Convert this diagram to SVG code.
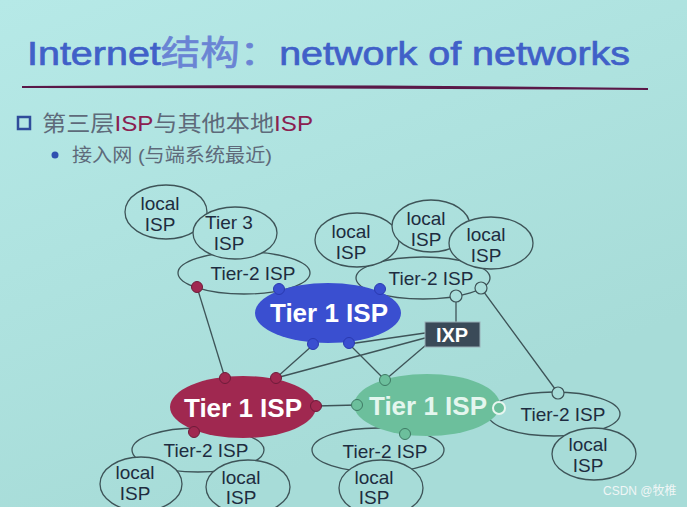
<svg xmlns="http://www.w3.org/2000/svg" width="687" height="507" viewBox="0 0 687 507">
<defs>
<linearGradient id="bg" gradientUnits="userSpaceOnUse" x1="0" y1="0" x2="200" y2="507">
<stop offset="0" stop-color="#b6e9e7"/>
<stop offset="1" stop-color="#a7dcd8"/>
</linearGradient>
<style>
.e{fill:url(#bg);stroke:#3e5458;stroke-width:1.3}
.t{font-family:"Liberation Sans","DejaVu Sans",sans-serif;font-size:19px;fill:#1e2c40;text-anchor:middle}
.w{font-family:"Liberation Sans","DejaVu Sans",sans-serif;font-size:26px;font-weight:bold;text-anchor:middle}
.c line,.c polyline{stroke:#3e5458;stroke-width:1.3;fill:none}
.db{fill:#3a4fd0;stroke:#2a3ab0;stroke-width:1}
.dr{fill:#a02850;stroke:#6e1c3a;stroke-width:1}
.dg{fill:#6cbf9c;stroke:#3e7a64;stroke-width:1}
.dh{fill:url(#bg);stroke:#3e5458;stroke-width:1.2}
</style>
</defs>
<rect width="687" height="507" fill="url(#bg)"/>

<g id="title">
<text x="27" y="65" font-family="'Liberation Sans','Noto Sans CJK SC',sans-serif" font-size="34" fill="#4060c8" stroke="#4060c8" stroke-width="0.7" textLength="603" lengthAdjust="spacingAndGlyphs">Internet<tspan fill="#6a84d4" stroke="#6a84d4">结构：</tspan>network of networks</text>
<path d="M22 86 Q330 84 648 88 L648 90 Q330 88 22 88 Z" fill="#5a1848"/>
</g>

<g id="bullets" font-family="'Liberation Sans','Noto Sans CJK SC',sans-serif">
<rect x="18" y="117" width="12" height="12" fill="none" stroke="#2f4c9a" stroke-width="2.5"/>
<text x="42" y="131" font-size="22" fill="#5e6a7a" textLength="271" lengthAdjust="spacingAndGlyphs">第三层<tspan fill="#8a2050">ISP</tspan>与其他本地<tspan fill="#8a2050">ISP</tspan></text>
<circle cx="55" cy="155" r="3.5" fill="#3050b0"/>
<text x="72" y="162" font-size="19" fill="#5e6a7a" textLength="200" lengthAdjust="spacingAndGlyphs">接入网 (与端系统最近)</text>
</g>

<g class="c" id="connectors">
<line x1="197" y1="287" x2="225" y2="378"/>
<line x1="313" y1="345" x2="276" y2="378"/>
<line x1="349" y1="344" x2="385" y2="380"/>
<line x1="425" y1="333" x2="349" y2="344"/>
<line x1="425" y1="338" x2="276" y2="378"/>
<line x1="426" y1="345" x2="385" y2="380"/>
<line x1="456" y1="322" x2="456" y2="296"/>
<polyline points="456,296 481,288 558,393"/>
<line x1="316" y1="406" x2="357" y2="405"/>
</g>

<g id="tl-tier2"><ellipse class="e" cx="244" cy="273" rx="66" ry="21"/><text class="t" x="253" y="280">Tier-2 ISP</text></g>
<g id="tl-local"><ellipse class="e" cx="166" cy="212" rx="41" ry="27"/><text class="t" x="160" y="210">local</text><text class="t" x="160" y="231">ISP</text></g>
<g id="tier3"><ellipse class="e" cx="235" cy="233" rx="42" ry="26"/><text class="t" x="229" y="229">Tier 3</text><text class="t" x="229" y="250">ISP</text></g>

<g id="tr-tier2"><ellipse class="e" cx="423" cy="278" rx="67" ry="21"/><text class="t" x="431" y="285">Tier-2 ISP</text></g>
<g id="tr-local1"><ellipse class="e" cx="357" cy="240" rx="42" ry="27"/><text class="t" x="351" y="238">local</text><text class="t" x="351" y="259">ISP</text></g>
<g id="tr-local2"><ellipse class="e" cx="431" cy="226" rx="39" ry="26"/><text class="t" x="426" y="225">local</text><text class="t" x="426" y="246">ISP</text></g>
<g id="tr-local3"><ellipse class="e" cx="491" cy="243" rx="42" ry="26"/><text class="t" x="486" y="241">local</text><text class="t" x="486" y="262">ISP</text></g>

<g id="bl-tier2"><ellipse class="e" cx="198" cy="450" rx="66" ry="22"/><text class="t" x="206" y="457">Tier-2 ISP</text></g>
<g id="bl-local1"><ellipse class="e" cx="141" cy="484" rx="41" ry="27"/><text class="t" x="135" y="479">local</text><text class="t" x="135" y="500">ISP</text></g>
<g id="bl-local2"><ellipse class="e" cx="248" cy="487" rx="42" ry="27"/><text class="t" x="241" y="484">local</text><text class="t" x="241" y="504">ISP</text></g>

<g id="bm-tier2"><ellipse class="e" cx="378" cy="450" rx="66" ry="22"/><text class="t" x="385" y="458">Tier-2 ISP</text></g>
<g id="bm-local"><ellipse class="e" cx="381" cy="488" rx="42" ry="28"/><text class="t" x="374" y="484">local</text><text class="t" x="374" y="504">ISP</text></g>

<g id="br-tier2"><ellipse class="e" cx="554" cy="414" rx="66" ry="22"/><text class="t" x="563" y="421">Tier-2 ISP</text></g>
<g id="br-local"><ellipse class="e" cx="594" cy="454" rx="42" ry="26"/><text class="t" x="588" y="451">local</text><text class="t" x="588" y="472">ISP</text></g>

<g id="tier1-blue">
<ellipse cx="328" cy="313" rx="73" ry="30" fill="#3a4fd0"/>
<text class="w" x="329" y="322" fill="#ffffff">Tier 1 ISP</text>
<circle class="db" cx="279" cy="289" r="5.5"/><circle class="db" cx="380" cy="289" r="5.5"/>
<circle class="db" cx="313" cy="344" r="5.5"/><circle class="db" cx="349" cy="343" r="5.5"/>
</g>
<g id="tier1-red">
<ellipse cx="243" cy="407" rx="73" ry="31" fill="#a02850"/>
<text class="w" x="243" y="417" fill="#ffffff">Tier 1 ISP</text>
<circle class="dr" cx="225" cy="378" r="5.5"/><circle class="dr" cx="276" cy="378" r="5.5"/>
<circle class="dr" cx="316" cy="406" r="5.5"/><circle class="dr" cx="194" cy="432" r="5.5"/>
</g>
<g id="tier1-green">
<ellipse cx="427" cy="405" rx="73" ry="31" fill="#6cbf9c"/>
<text class="w" x="428" y="415" fill="#e4f6ee">Tier 1 ISP</text>
<circle class="dg" cx="357" cy="405" r="5.5"/><circle class="dg" cx="385" cy="380" r="5.5"/>
<circle class="dg" cx="405" cy="434" r="5.5"/><circle cx="499" cy="408" r="6" fill="#6cbf9c" stroke="#e8f6f0" stroke-width="2"/>
</g>
<circle class="dr" cx="197" cy="287" r="5.5"/>
<circle class="dh" cx="456" cy="296" r="6"/><circle class="dh" cx="481" cy="288" r="6"/><circle class="dh" cx="558" cy="393" r="6"/>

<g id="ixp">
<rect x="425" y="322" width="55" height="25" fill="#3a4a58" stroke="#9ab0b8" stroke-width="1"/>
<text x="452" y="342" font-family="'Liberation Sans',sans-serif" font-size="20" font-weight="bold" fill="#ffffff" text-anchor="middle">IXP</text>
</g>

<text x="603" y="495" font-family="'Liberation Sans','Noto Sans CJK SC',sans-serif" font-size="12" fill="#f0f6f6">CSDN @牧椎</text>
</svg>
